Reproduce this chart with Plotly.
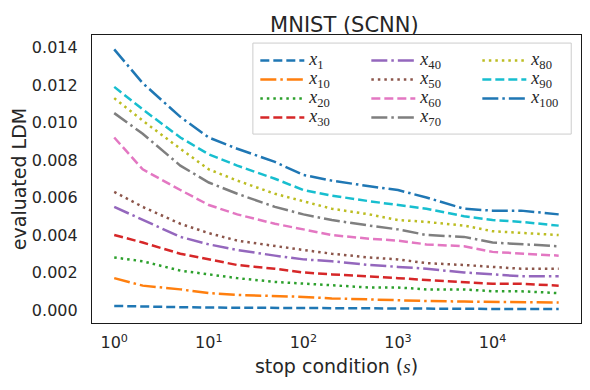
import plotly.graph_objects as go

# stop condition values (x axis, log scale)
stops = [1, 2, 5, 10, 20, 50, 100, 200, 500, 1000, 2000, 5000, 10000, 20000, 50000]

x1 = [0.00022, 0.00018, 0.00015, 0.00013, 0.00012, 0.00010, 0.00009, 0.00008,
      0.00007, 0.00007, 0.00006, 0.00006, 0.00005, 0.00005, 0.00005]
x10 = [0.0017, 0.0013, 0.0011, 0.0009, 0.0008, 0.00075, 0.0007, 0.00062,
       0.00055, 0.0005, 0.00048, 0.00045, 0.00044, 0.00042, 0.0004]
x20 = [0.0028, 0.0026, 0.0021, 0.0019, 0.0017, 0.0015, 0.0014, 0.0013,
       0.0012, 0.0012, 0.0011, 0.0011, 0.0010, 0.0010, 0.0009]
x30 = [0.0040, 0.0036, 0.0030, 0.0027, 0.0024, 0.0022, 0.0020, 0.0019,
       0.0018, 0.0017, 0.0016, 0.0015, 0.0014, 0.0014, 0.0013]
x40 = [0.0055, 0.0048, 0.0039, 0.0035, 0.0032, 0.0029, 0.0027, 0.0026,
       0.0024, 0.0023, 0.0022, 0.0020, 0.0019, 0.0018, 0.0018]
x50 = [0.0063, 0.0055, 0.0046, 0.0041, 0.0037, 0.0034, 0.0032, 0.0030,
       0.0028, 0.0027, 0.0025, 0.0024, 0.0023, 0.0022, 0.0022]
x60 = [0.0092, 0.0075, 0.0064, 0.0056, 0.0051, 0.0046, 0.0043, 0.0040,
       0.0038, 0.0037, 0.0035, 0.0034, 0.0031, 0.0030, 0.0029]
x70 = [0.0105, 0.0094, 0.0077, 0.0068, 0.0062, 0.0055, 0.0051, 0.0048,
       0.0045, 0.0043, 0.0040, 0.0039, 0.0036, 0.0035, 0.0034]
x80 = [0.0113, 0.0101, 0.0086, 0.0075, 0.0069, 0.0062, 0.0058, 0.0054,
       0.0051, 0.0048, 0.0047, 0.0045, 0.0042, 0.0041, 0.0040]
x90 = [0.0119, 0.0107, 0.0092, 0.0083, 0.0077, 0.0070, 0.0064, 0.0061,
       0.0058, 0.0056, 0.0054, 0.0050, 0.0048, 0.0047, 0.0045]
x100 = [0.0139, 0.0121, 0.0103, 0.0092, 0.0086, 0.0079, 0.0072, 0.0069,
        0.0066, 0.0064, 0.0060, 0.0054, 0.0053, 0.0053, 0.0051]

names = ["1", "10", "20", "30", "40", "50", "60", "70", "80", "90", "100"]
series = [x1, x10, x20, x30, x40, x50, x60, x70, x80, x90, x100]

y_ticks = [0.000, 0.002, 0.004, 0.006, 0.008, 0.010, 0.012, 0.014]
x_ticks = [1, 10, 100, 1000, 10000]
x_ticktext = ["10<sup>0</sup>", "10<sup>1</sup>", "10<sup>2</sup>", "10<sup>3</sup>", "10<sup>4</sup>"]

colors = ["#1f77b4", "#ff7f0e", "#2ca02c", "#d62728", "#9467bd", "#8c564b",
          "#e377c2", "#7f7f7f", "#bcbd22", "#17becf", "#1f77b4"]
lw = 2.5
dashes = {
    "dash": "9px,4px",
    "dashdot": "16px,4px,2.5px,4px",
    "dot": "2.5px,4px",
}
styles = ["dash", "dashdot", "dot"]

fig = go.Figure()
for i, (n, ys) in enumerate(zip(names, series)):
    leg = ["legend", "legend2", "legend3"][i // 4]
    fig.add_trace(go.Scatter(
        x=stops, y=ys, mode="lines",
        name="<span style='font-size:18px'><i>x</i><sub>%s</sub></span>" % n,
        line=dict(color=colors[i], width=lw, dash=dashes[styles[i % 3]]),
        legend=leg,
    ))

# page body has an 8px margin, so the figure is sized 8px smaller
legfont = dict(family="Liberation Serif", size=12.3, color="#262626")
legcommon = dict(bgcolor="rgba(0,0,0,0)", borderwidth=0, font=legfont,
                 yanchor="top", y=0.962, xanchor="left", itemwidth=44,
                 tracegroupgap=0)

fig.update_layout(
    width=582, height=382,
    margin=dict(l=84, r=9, t=27, b=67),
    paper_bgcolor="white", plot_bgcolor="white",
    font=dict(family="DejaVu Sans", size=16, color="#262626"),
    title=dict(text="MNIST (SCNN)", x=0.578, xanchor="center", y=0.957,
               yanchor="middle", font=dict(size=21)),
    xaxis=dict(
        type="log", range=[-0.235, 4.935],
        tickvals=x_ticks, ticktext=x_ticktext,
        showgrid=False, zeroline=False, automargin=False,
        showline=True, mirror=True, linecolor="#1a1a1a", linewidth=1.25,
        ticks="", ticklabelstandoff=5,
        title=dict(text="stop condition (<i><span style='font-family:Liberation Serif'>s</span></i>)",
                   standoff=8),
    ),
    yaxis=dict(
        range=[-0.000693, 0.014667],
        tickvals=y_ticks, tickformat=".3f",
        showgrid=False, zeroline=False, automargin=False,
        showline=True, mirror=True, linecolor="#1a1a1a", linewidth=1.25,
        ticks="", ticklabelstandoff=10,
        title=dict(text="evaluated LDM", standoff=6),
    ),
    legend=dict(x=0.334, **legcommon),
    legend2=dict(x=0.561, **legcommon),
    legend3=dict(x=0.788, **legcommon),
    shapes=[dict(type="rect", xref="paper", yref="paper",
                 x0=0.329, x1=0.98, y0=0.656, y1=0.972,
                 line=dict(color="#cccccc", width=1),
                 fillcolor="rgba(255,255,255,0.8)", layer="above")],
)

fig.write_html("out.html")
